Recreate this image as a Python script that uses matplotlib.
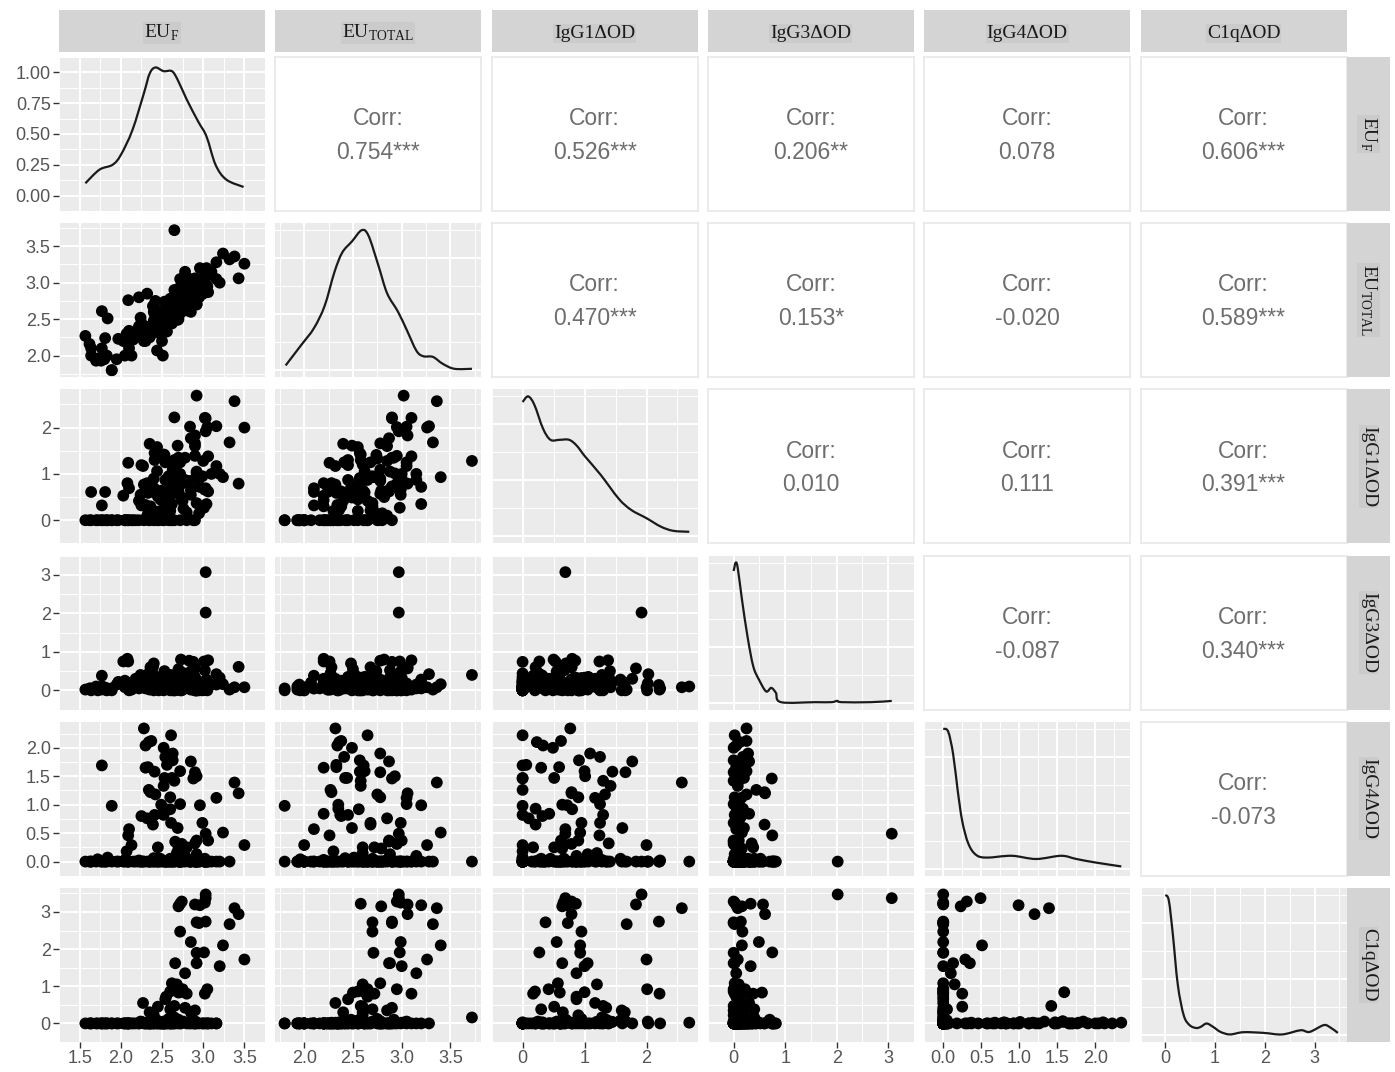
import numpy as np
import matplotlib.pyplot as plt
from matplotlib.path import Path
from matplotlib.patches import PathPatch

plt.rcParams['font.family'] = ['Liberation Sans', 'DejaVu Sans']
plt.rcParams['mathtext.fontset'] = 'custom'
plt.rcParams['mathtext.rm'] = 'Liberation Serif'

# variable names (strip labels)
var_labels = [r'EU$_\mathrm{F}$', r'EU$_\mathrm{TOTAL}$', 'IgG1ΔOD', 'IgG3ΔOD', 'IgG4ΔOD', 'C1qΔOD']

# observations, one value per sample, same order in every list
eu_f = [3.03, 3.03, 2.72, 2.70, 2.74, 2.90, 2.96, 3.02, 3.38, 3.43, 2.92, 3.03, 3.32, 2.95, 2.72, 2.85, 3.24, 2.92, 3.01, 3.50, 2.66, 2.92, 3.20, 2.78,
        2.62, 2.68, 2.75, 2.60, 2.80, 2.70, 3.02, 3.05, 2.72, 2.55, 2.54, 2.27, 2.45, 2.65, 2.78, 2.90, 2.35, 2.60, 2.85, 2.40,
        2.28, 2.61, 2.30, 2.34, 2.37, 2.52, 2.54, 2.56, 2.63, 2.63, 2.30, 2.33, 2.41, 1.77, 2.85, 2.90, 2.88, 2.92, 2.53, 2.62,
        2.34, 2.36, 2.52, 3.16, 2.60, 2.42, 1.89, 2.49, 2.72, 2.53, 2.60, 2.50, 2.52, 2.25, 2.41, 2.32, 2.39, 2.61, 2.69, 2.99,
        3.06, 2.10, 2.09, 2.13, 2.90, 2.92, 2.07,
        2.92, 2.65, 2.84, 3.16, 2.44, 2.53, 2.70, 3.06, 3.00, 2.25, 2.44, 3.10, 2.08, 2.32, 2.03, 1.77, 1.64, 1.81, 2.24, 2.22,
        3.04, 3.02, 2.65, 2.40, 2.48, 2.55, 2.58, 2.62, 2.73, 2.83, 2.76, 2.36, 2.48, 2.95, 1.57, 1.62, 1.64, 1.70, 1.72, 1.76,
        1.80, 1.83, 1.84, 1.89, 1.95, 1.97, 2.05, 2.05, 2.09, 2.10, 2.15, 2.18, 2.22, 2.28, 2.35, 2.40, 2.46, 2.51, 2.44, 2.58,
        2.65, 2.72, 2.80, 2.90]
eu_total = [2.97, 2.97, 2.58, 2.79, 2.95, 3.06, 3.20, 2.99, 3.36, 3.06, 2.70, 2.90, 3.32, 2.90, 2.70, 2.99, 3.40, 2.71, 2.98, 3.26, 2.87, 2.88, 3.00, 3.15,
            2.78, 2.60, 2.65, 2.55, 2.72, 2.50, 3.10, 2.95, 2.62, 2.65, 2.45, 2.32, 2.60, 2.58, 2.90, 2.85, 2.40, 2.70, 2.60, 2.60,
            2.32, 2.65, 2.34, 2.36, 2.38, 2.49, 2.41, 2.33, 2.78, 2.57, 2.20, 2.33, 2.57, 2.61, 2.87, 2.78, 2.90, 2.93, 2.42, 2.44,
            2.27, 2.28, 2.58, 3.05, 2.78, 2.75, 1.80, 2.35, 3.05, 2.35, 2.56, 2.20, 2.37, 2.38, 2.45, 2.85, 2.68, 2.68, 2.49, 2.99,
            2.87, 2.10, 2.26, 2.00, 2.95, 3.00, 2.30,
            3.02, 2.90, 3.05, 3.28, 2.55, 2.74, 2.92, 3.10, 2.85, 2.45, 2.62, 3.15, 2.20, 2.28, 2.20, 2.10, 2.10, 2.24, 2.52, 2.40,
            3.20, 2.88, 3.72, 2.48, 2.55, 2.62, 2.75, 2.68, 2.82, 2.78, 2.70, 2.38, 2.30, 2.80, 2.27, 2.16, 2.00, 1.93, 1.96, 1.93,
            1.95, 2.00, 2.51, 1.80, 1.95, 2.23, 2.00, 2.20, 2.76, 2.34, 2.22, 2.30, 2.80, 2.20, 2.25, 2.42, 2.35, 2.00, 2.07, 2.45,
            2.55, 2.65, 2.62, 2.75]
igg1 = [1.92, 0.69, 0.86, 0.64, 0.79, 1.83, 0.72, 0.66, 2.57, 0.79, 0.37, 2.20, 1.68, 0.73, 0.95, 0.55, 0.93, 0.93, 0.27, 2.00, 0.64, 1.05, 1.00, 0.87,
        0.57, 1.20, 0.42, 0.20, 0.17, 0.60, 2.21, 2.01, 1.00, 0.87, 0.87, 1.17, 0.51, 1.30, 1.35, 1.60, 1.65, 0.30, 0.65, 0.90,
        0.77, 0.00, 0.33, 0.23, 0.62, 0.49, 1.25, 0.06, 1.09, 0.91, 0.30, 0.59, 1.45, 0.00, 1.77, 1.66, 0.00, 1.01, 0.51, 0.00,
        0.00, 0.79, 1.42, 1.17, 0.90, 1.33, 0.00, 0.64, 1.25, 0.21, 0.80, 0.43, 0.00, 0.32, 1.30, 0.10, 0.21, 1.25, 1.61, 0.95,
        0.62, 0.69, 1.24, 0.00, 1.39, 0.90, 0.00,
        2.69, 2.22, 2.02, 2.03, 1.58, 1.41, 1.35, 1.38, 1.28, 1.19, 1.06, 1.00, 0.80, 0.80, 0.53, 0.32, 0.61, 0.61, 0.55, 0.42,
        0.35, 0.67, 1.28, 0.70, 0.45, 0.60, 0.95, 0.35, 0.50, 0.85, 0.25, 0.30, 0.20, 0.15, 0.00, 0.00, 0.00, 0.00, 0.00, 0.00,
        0.00, 0.00, 0.00, 0.00, 0.00, 0.00, 0.00, 0.00, 0.00, 0.00, 0.00, 0.00, 0.00, 0.00, 0.00, 0.00, 0.00, 0.00, 0.00, 0.00,
        0.00, 0.00, 0.00, 0.00]
igg3 = [2.02, 3.07, 0.33, 0.16, 0.00, 0.57, 0.05, 0.02, 0.08, 0.61, 0.00, 0.14, 0.02, 0.00, 0.17, 0.49, 0.16, 0.00, 0.75, 0.08, 0.00, 0.02, 0.33, 0.05,
        0.02, 0.10, 0.22, 0.00, 0.38, 0.55, 0.02, 0.00, 0.25, 0.05, 0.12, 0.30, 0.08, 0.00, 0.15, 0.00, 0.20, 0.40, 0.02, 0.00,
        0.25, 0.02, 0.05, 0.12, 0.25, 0.00, 0.18, 0.08, 0.28, 0.00, 0.15, 0.05, 0.22, 0.10, 0.30, 0.00, 0.74, 0.12, 0.05, 0.20,
        0.44, 0.60, 0.08, 0.15, 0.02, 0.25, 0.05, 0.10, 0.00, 0.18, 0.06, 0.30, 0.02, 0.15, 0.05, 0.12, 0.60, 0.08, 0.20, 0.00,
        0.10, 0.05, 0.75, 0.02, 0.35, 0.00, 0.10,
        0.10, 0.05, 0.18, 0.42, 0.28, 0.50, 0.12, 0.78, 0.20, 0.08, 0.35, 0.15, 0.82, 0.30, 0.75, 0.38, 0.05, 0.02, 0.40, 0.12,
        0.28, 0.52, 0.40, 0.70, 0.22, 0.15, 0.32, 0.06, 0.80, 0.77, 0.45, 0.18, 0.08, 0.22, 0.02, 0.05, 0.00, 0.10, 0.00, 0.02,
        0.08, 0.00, 0.05, 0.00, 0.15, 0.22, 0.08, 0.25, 0.10, 0.00, 0.12, 0.30, 0.05, 0.18, 0.02, 0.10, 0.00, 0.05, 0.20, 0.35,
        0.12, 0.03, 0.25, 0.05]
igg4 = [0.00, 0.49, 0.00, 0.23, 0.31, 0.00, 0.99, 0.00, 1.39, 1.20, 0.00, 0.00, 0.00, 0.00, 0.00, 0.00, 0.51, 0.00, 0.00, 0.29, 0.35, 0.13, 0.00, 0.10,
        0.00, 0.15, 0.00, 0.00, 0.25, 0.00, 0.00, 0.00, 1.59, 0.00, 0.00, 0.00, 0.25, 1.42, 0.00, 0.00, 0.00, 0.05, 0.00, 0.00,
        2.34, 2.22, 2.04, 2.10, 2.12, 2.00, 1.84, 1.70, 1.90, 1.78, 1.65, 1.66, 1.58, 1.69, 1.76, 1.57, 1.46, 1.50, 1.47, 1.47,
        1.26, 1.22, 1.33, 1.12, 1.13, 1.18, 0.98, 1.00, 1.01, 0.93, 0.92, 0.84, 0.82, 0.80, 0.82, 0.76, 0.65, 0.68, 0.59, 0.68,
        0.37, 0.57, 0.46, 0.29, 0.32, 0.37, 0.18,
        0.00, 0.02, 0.00, 0.00, 0.05, 0.00, 0.00, 0.00, 0.03, 0.00, 0.00, 0.00, 0.00, 0.00, 0.00, 0.00, 0.00, 0.00, 0.00, 0.02,
        0.00, 0.05, 0.00, 0.00, 0.05, 0.00, 0.00, 0.00, 0.00, 0.00, 0.02, 0.00, 0.00, 0.00, 0.00, 0.00, 0.00, 0.00, 0.04, 0.00,
        0.00, 0.00, 0.07, 0.00, 0.00, 0.00, 0.00, 0.03, 0.00, 0.00, 0.00, 0.00, 0.00, 0.00, 0.00, 0.06, 0.00, 0.00, 0.00, 0.00,
        0.00, 0.00, 0.02, 0.00]
c1q = [3.47, 3.37, 3.22, 3.15, 3.28, 3.20, 3.18, 3.25, 3.10, 2.94, 2.72, 2.74, 2.67, 2.70, 2.47, 2.19, 2.10, 1.90, 1.91, 1.72, 1.62, 1.62, 1.54, 1.35,
       1.08, 1.05, 0.92, 0.86, 0.80, 0.83, 0.80, 0.92, 0.84, 0.72, 0.65, 0.55, 0.45, 0.47, 0.42, 0.35, 0.30, 0.38, 0.30, 0.22,
       0.02, 0.00, 0.00, 0.03, 0.00, 0.00, 0.05, 0.00, 0.00, 0.02, 0.00, 0.00, 0.04, 0.00, 0.00, 0.06, 0.00, 0.00, 0.00, 0.03,
       0.00, 0.00, 0.05, 0.00, 0.00, 0.02, 0.00, 0.00, 0.04, 0.00, 0.00, 0.00, 0.00, 0.03, 0.00, 0.00, 0.00, 0.02, 0.00, 0.00,
       0.00, 0.00, 0.00, 0.00, 0.00, 0.02, 0.00,
       0.02, 0.00, 0.05, 0.00, 0.08, 0.02, 0.10, 0.00, 0.00, 0.04, 0.00, 0.00, 0.00, 0.02, 0.00, 0.00, 0.00, 0.00, 0.05, 0.00,
       0.00, 0.00, 0.16, 0.10, 0.00, 0.00, 0.12, 0.00, 0.00, 0.00, 0.05, 0.00, 0.00, 0.00, 0.00, 0.00, 0.00, 0.00, 0.00, 0.00,
       0.00, 0.00, 0.00, 0.00, 0.00, 0.00, 0.00, 0.00, 0.00, 0.00, 0.00, 0.00, 0.00, 0.00, 0.00, 0.00, 0.00, 0.00, 0.00, 0.00,
       0.00, 0.00, 0.00, 0.00]

# density curves (EU_F in density units, others relative to peak)
dens_eu_f_x = [1.57, 1.74, 1.90, 2.00, 2.14, 2.28, 2.35, 2.42, 2.52, 2.62, 2.69, 2.80, 2.94, 3.04, 3.15, 3.28, 3.49]
dens_eu_f_y = [0.10, 0.21, 0.25, 0.33, 0.53, 0.83, 0.99, 1.04, 1.01, 1.01, 0.94, 0.78, 0.60, 0.48, 0.25, 0.13, 0.07]
dens_eu_t_x = [1.81, 1.97, 2.10, 2.21, 2.31, 2.39, 2.49, 2.59, 2.66, 2.76, 2.85, 2.96, 3.05, 3.15, 3.22, 3.32, 3.42, 3.54, 3.72]
dens_eu_t_y = [0.034, 0.18, 0.30, 0.46, 0.70, 0.84, 0.92, 1.00, 0.96, 0.75, 0.55, 0.42, 0.29, 0.14, 0.10, 0.095, 0.046, 0.01, 0.01]
dens_igg1_x = [0.00, 0.09, 0.19, 0.33, 0.45, 0.60, 0.75, 0.87, 1.01, 1.26, 1.55, 1.75, 2.00, 2.23, 2.43, 2.69]
dens_igg1_y = [0.96, 1.00, 0.94, 0.77, 0.69, 0.69, 0.69, 0.65, 0.57, 0.44, 0.27, 0.19, 0.13, 0.07, 0.04, 0.033]
dens_igg3_x = [0.00, 0.04, 0.08, 0.16, 0.27, 0.38, 0.49, 0.63, 0.73, 0.82, 0.92, 1.58, 1.90, 2.01, 2.10, 2.66, 3.07]
dens_igg3_y = [0.94, 1.00, 0.96, 0.74, 0.47, 0.26, 0.165, 0.08, 0.105, 0.07, 0.003, 0.003, 0.003, 0.012, 0.003, 0.003, 0.012]
dens_igg4_x = [0.00, 0.065, 0.13, 0.19, 0.25, 0.33, 0.43, 0.57, 0.90, 1.22, 1.55, 1.75, 2.00, 2.34]
dens_igg4_y = [1.00, 0.98, 0.82, 0.56, 0.34, 0.18, 0.10, 0.08, 0.093, 0.07, 0.093, 0.07, 0.045, 0.017]
dens_c1q_x = [0.00, 0.07, 0.15, 0.25, 0.37, 0.49, 0.62, 0.71, 0.83, 0.96, 1.11, 1.30, 1.57, 1.98, 2.35, 2.72, 2.90, 3.18, 3.30, 3.47]
dens_c1q_y = [1.00, 0.96, 0.72, 0.36, 0.14, 0.07, 0.05, 0.058, 0.082, 0.058, 0.022, 0.004, 0.02, 0.015, 0.004, 0.034, 0.022, 0.07, 0.058, 0.015]

corr_labels = ['0.754***', '0.526***', '0.206**', '0.078', '0.606***',
               '0.470***', '0.153*', '-0.020', '0.589***',
               '0.010', '0.111', '0.391***',
               '-0.087', '0.340***',
               '-0.073']

# axis breaks per variable
major_ticks = [[1.5, 2.0, 2.5, 3.0, 3.5], [2.0, 2.5, 3.0, 3.5], [0, 1, 2], [0, 1, 2, 3],
               [0.0, 0.5, 1.0, 1.5, 2.0], [0, 1, 2, 3]]
tick_decimals = [1, 1, 0, 0, 1, 0]
dens_ticks = [0.0, 0.25, 0.5, 0.75, 1.0]

data = [eu_f, eu_total, igg1, igg3, igg4, c1q]
dens = [(dens_eu_f_x, dens_eu_f_y), (dens_eu_t_x, dens_eu_t_y), (dens_igg1_x, dens_igg1_y),
        (dens_igg3_x, dens_igg3_y), (dens_igg4_x, dens_igg4_y), (dens_c1q_x, dens_c1q_y)]

W, H = 1395, 1072
fig = plt.figure(figsize=(W / 100, H / 100), dpi=100)


def box(x0, y0, w, h):
    return [x0 / W, 1 - (y0 + h) / H, w / W, h / H]


def lims(v):
    v = np.asarray(v)
    r = v.max() - v.min()
    return v.min() - 0.05 * r, v.max() + 0.05 * r


def minor_of(t):
    t = np.asarray(t, dtype=float)
    step = t[1] - t[0]
    return np.arange(t[0] - step / 2, t[-1] + step, step)


def smooth_path(x, y):
    # cubic bezier through the read points (Catmull-Rom tangents)
    p = np.column_stack([x, y]).astype(float)
    verts = [p[0]]
    codes = [Path.MOVETO]
    for a in range(len(p) - 1):
        p0 = p[a - 1] if a > 0 else p[a]
        p1, p2 = p[a], p[a + 1]
        p3 = p[a + 2] if a + 2 < len(p) else p[a + 1]
        c1 = p1 + (p2 - p0) / 6
        c2 = p2 - (p3 - p1) / 6
        verts += [c1, c2, p2]
        codes += [Path.CURVE4] * 3
    return Path(verts, codes)


col_x = [59 + i * 216.3 for i in range(6)]
row_y = [57 + i * 166.2 for i in range(6)]
cw, rh = 206, 154

tick_col = '#555555'
k = 0
for i in range(6):
    for j in range(6):
        ax = fig.add_axes(box(col_x[j], row_y[i], cw, rh))
        for s in ax.spines.values():
            s.set_visible(False)
        ax.set_xlim(*lims(data[j]))
        if i < j:
            # correlation panel
            ax.set_facecolor('white')
            for s in ax.spines.values():
                s.set_visible(True)
                s.set_color('#E8E8E8')
                s.set_linewidth(1.2)
            ax.set_xticks([])
            ax.set_yticks([])
            ax.text(0.5, 0.60, 'Corr:', transform=ax.transAxes, ha='center', va='center',
                    fontsize=16.5, color='#6E6E6E')
            ax.text(0.5, 0.38, corr_labels[k], transform=ax.transAxes, ha='center', va='center',
                    fontsize=16.5, color='#6E6E6E')
            k += 1
            continue

        ax.set_facecolor('#EBEBEB')
        ax.set_axisbelow(True)
        ax.set_xticks(major_ticks[j])
        ax.set_xticks(minor_of(major_ticks[j]), minor=True)
        if i == j:
            dx, dy = dens[j]
            peak = max(dy)
            ax.add_patch(PathPatch(smooth_path(dx, dy), fill=False, ec='#1A1A1A', lw=1.6))
            ax.set_ylim(-0.05 * peak, 1.05 * peak)
            if i == 0:
                ax.set_yticks(dens_ticks)
                ax.set_yticks(minor_of(dens_ticks), minor=True)
            else:
                ax.set_yticks([0.0, 0.4, 0.8])
                ax.set_yticks([0.2, 0.6, 1.0], minor=True)
        else:
            ax.scatter(data[j], data[i], s=72, c='black', edgecolors='none')
            ax.set_ylim(*lims(data[i]))
            ax.set_yticks(major_ticks[i])
            ax.set_yticks(minor_of(major_ticks[i]), minor=True)
        ax.grid(which='major', color='white', lw=1.4)
        ax.grid(which='minor', color='white', lw=0.7)
        ax.tick_params(which='minor', length=0)
        ax.tick_params(which='major', length=4, width=1, color='#333333',
                       labelsize=13, labelcolor=tick_col, pad=2)

        if i == 5:
            ax.set_xticklabels([f'{t:.{tick_decimals[j]}f}' for t in major_ticks[j]])
        else:
            ax.tick_params(axis='x', which='major', length=0, labelbottom=False)
        if j == 0:
            if i == 0:
                ax.set_yticklabels([f'{t:.2f}' for t in dens_ticks])
            else:
                ax.set_yticklabels([f'{t:.{tick_decimals[i]}f}' for t in major_ticks[i]])
        else:
            ax.tick_params(axis='y', which='major', length=0, labelleft=False)

# strips
strip_bg = '#D4D4D4'
for j in range(6):
    sa = fig.add_axes(box(col_x[j], 10, cw, 42))
    sa.set_facecolor(strip_bg)
    sa.set_xticks([])
    sa.set_yticks([])
    for s in sa.spines.values():
        s.set_visible(False)
    sa.text(0.5, 0.45, var_labels[j], transform=sa.transAxes, ha='center', va='center',
            fontsize=14, family='Liberation Serif', color='#1A1A1A',
            bbox=dict(boxstyle='square,pad=0.05', fc='#CBCBCB', ec='none'))
for i in range(6):
    sa = fig.add_axes(box(1347, row_y[i], 43, rh))
    sa.set_facecolor(strip_bg)
    sa.set_xticks([])
    sa.set_yticks([])
    for s in sa.spines.values():
        s.set_visible(False)
    sa.text(0.5, 0.5, var_labels[i], transform=sa.transAxes, ha='center', va='center',
            rotation=-90, fontsize=14, family='Liberation Serif', color='#1A1A1A',
            bbox=dict(boxstyle='square,pad=0.05', fc='#CBCBCB', ec='none'))

fig.savefig('out.png', dpi=100, facecolor='white')
